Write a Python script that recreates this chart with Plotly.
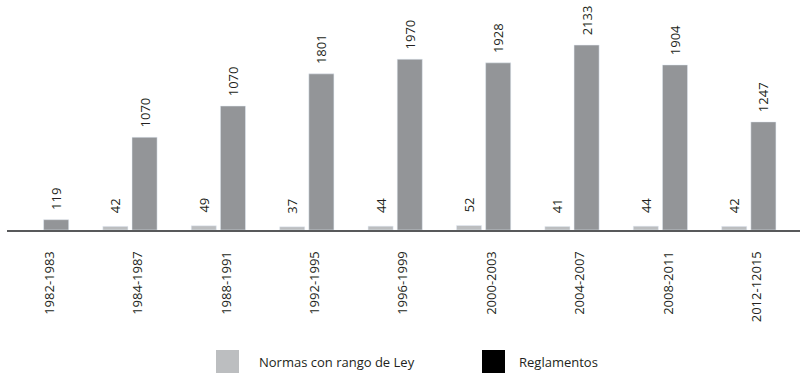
import plotly.graph_objects as go

categories = ["1982-1983", "1984-1987", "1988-1991", "1992-1995", "1996-1999",
              "2000-2003", "2004-2007", "2008-2011", "2012-12015"]
normas = [None, 42, 49, 37, 44, 52, 41, 44, 42]
normas_labels = ["", "42", "49", "37", "44", "52", "41", "44", "42"]
# bar heights as drawn; the 1988-1991 bar is labelled "1070" in the source
reglamentos = [119, 1070, 1430, 1801, 1970, 1928, 2133, 1904, 1247]
reglamentos_labels = ["119", "1070", "1070", "1801", "1970", "1928", "2133", "1904", "1247"]

light = "#BCBEC0"
dark = "#939598"
txt = "#231F20"
font = "Open Sans"

L, R, T, B = 7, 3, 0, 144
W = 803 - L - R
H = 374 - T - B

fig = go.Figure()
fig.add_trace(go.Bar(x=categories, y=normas, marker_color=light, name="Normas con rango de Ley",
                     text=normas_labels, texttemplate="\u00a0\u00a0\u00a0%{text}",
                     textposition="outside", textangle=-90, constraintext="none",
                     textfont=dict(family=font, size=13, color=txt), cliponaxis=False,
                     showlegend=False))
fig.add_trace(go.Bar(x=categories, y=reglamentos, marker_color=dark, name="Reglamentos",
                     text=reglamentos_labels, texttemplate="\u00a0\u00a0%{text}",
                     textposition="outside", textangle=-90, constraintext="none",
                     textfont=dict(family=font, size=13, color=txt), cliponaxis=False,
                     showlegend=False))

def px2x(px):
    return (px - L) / W

def py2y(py):
    return (T + H - py) / H

legend_items = [("Normas con rango de Ley", light, 216, 257), ("Reglamentos", "#000000", 482, 517)]
for label, col, sx, tx in legend_items:
    fig.add_shape(type="rect", xref="paper", yref="paper",
                  x0=px2x(sx), x1=px2x(sx + 23), y0=py2y(373), y1=py2y(350),
                  fillcolor=col, line_width=0)
    fig.add_annotation(text=label, xref="paper", yref="paper", x=px2x(tx), y=py2y(361.5),
                       xanchor="left", yanchor="middle", showarrow=False,
                       font=dict(family=font, size=13, color=txt))

fig.update_layout(
    width=803, height=374,
    margin=dict(l=L, r=R, t=T, b=B),
    paper_bgcolor="white", plot_bgcolor="white",
    barmode="group", bargap=0.34, bargroupgap=0.14,
    font=dict(family=font, size=13, color=txt),
    uniformtext=dict(mode=False),
    xaxis=dict(type="category", range=[-0.391, 8.579], showline=True, linecolor="#58595B",
               linewidth=2, ticks="", tickangle=-90, showgrid=False, zeroline=False,
               ticklabelstandoff=14, ticklabelshift=8,
               tickfont=dict(family=font, size=13, color=txt)),
    yaxis=dict(range=[0, 2653], visible=False, showgrid=False, zeroline=False),
)

fig.write_html("out.html")
